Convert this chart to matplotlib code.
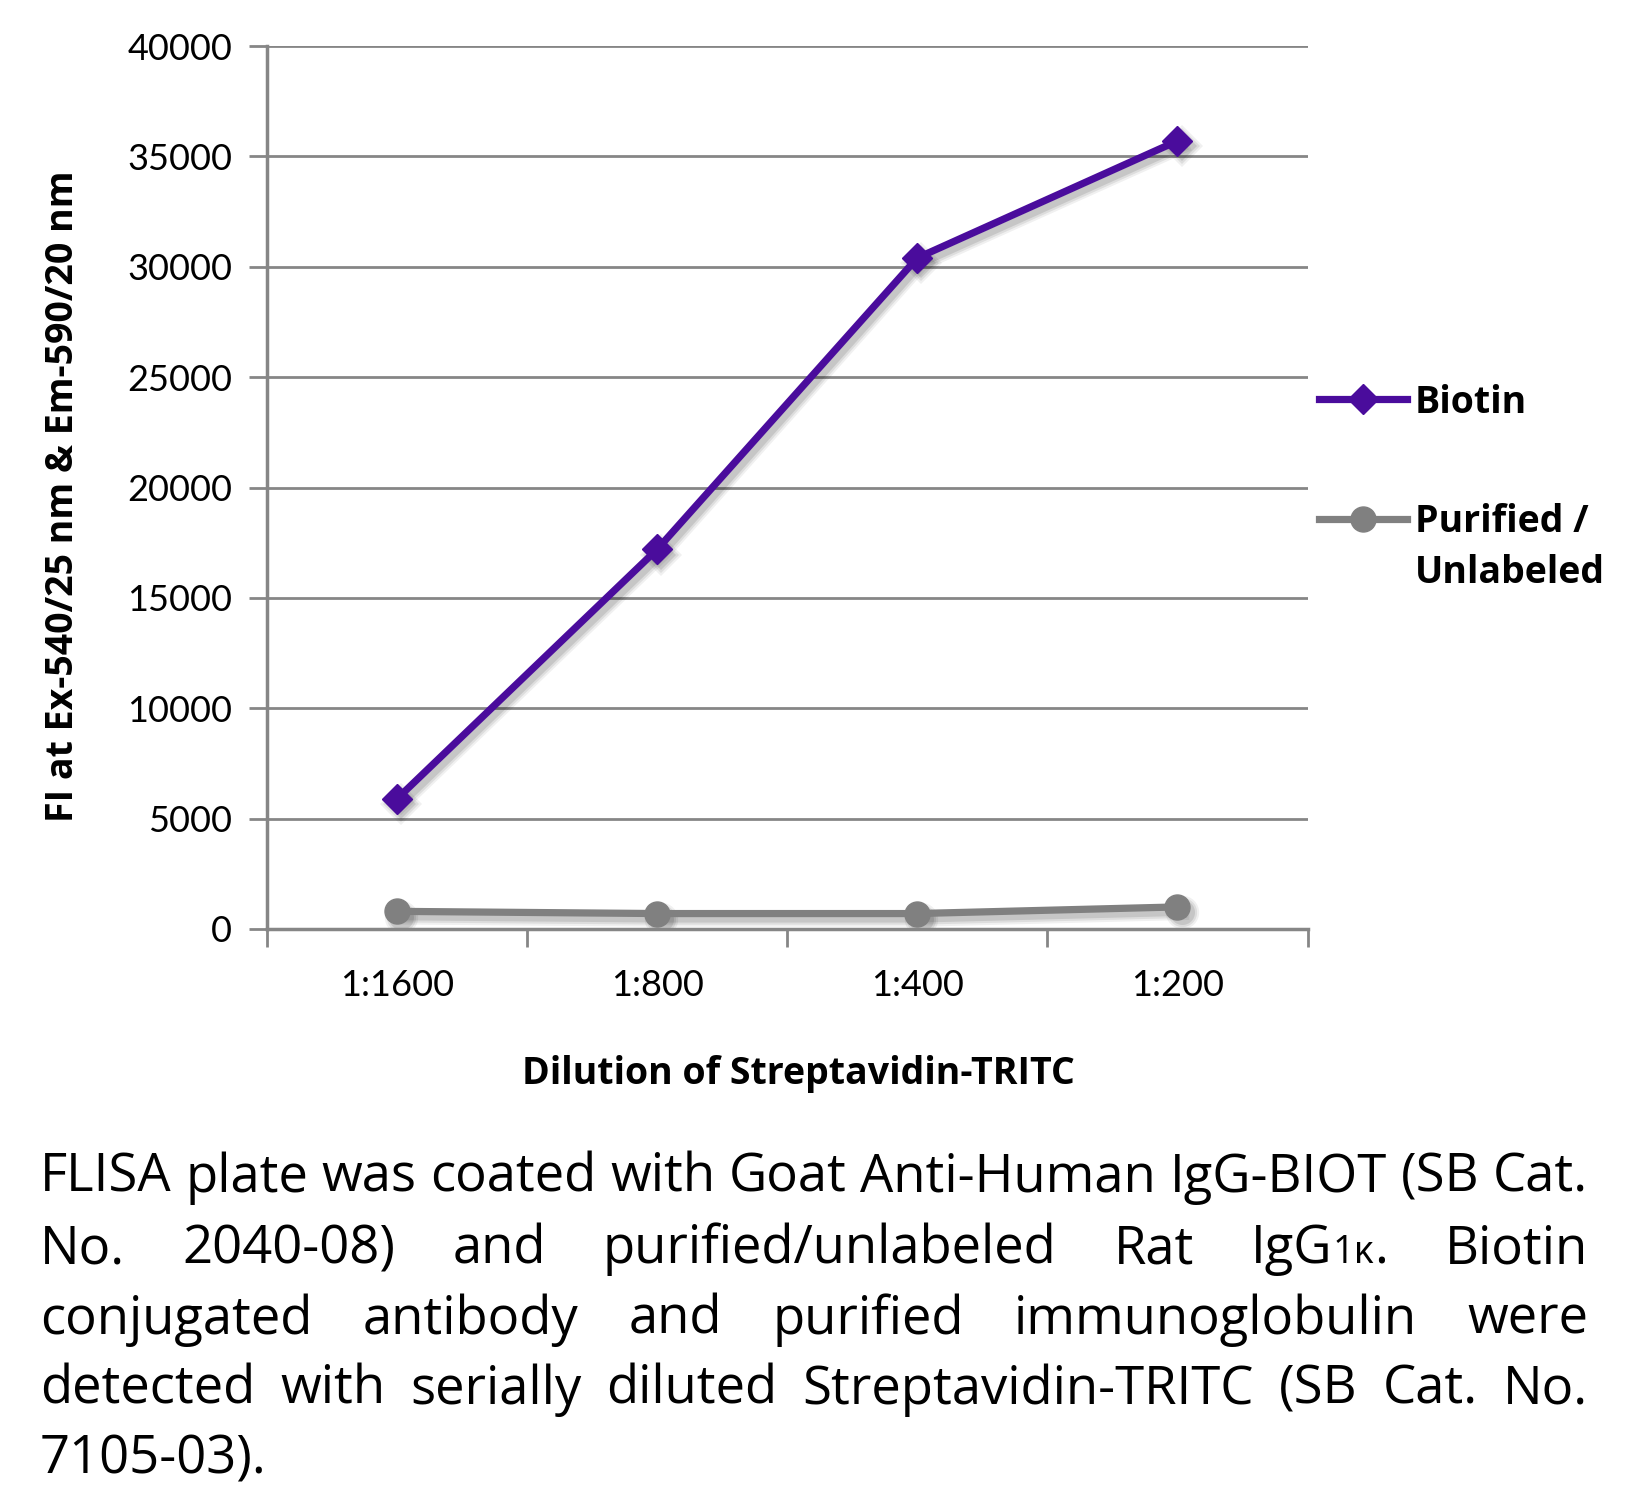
import matplotlib
matplotlib.use("Agg")
import matplotlib.pyplot as plt
from matplotlib.ticker import FixedLocator
from matplotlib.transforms import ScaledTranslation

# data
dilutions = ["1:1600", "1:800", "1:400", "1:200"]
biotin = [5900, 17200, 30400, 35700]
purified = [800, 700, 700, 1000]
y_ticks = [0, 5000, 10000, 15000, 20000, 25000, 30000, 35000, 40000]

# caption: "|" marks the smaller "1κ" piece
caption_lines = [
    "FLISA plate was coated with Goat Anti-Human IgG-BIOT (SB Cat.",
    "No. 2040-08) and purified/unlabeled Rat IgG|1κ|. Biotin",
    "conjugated antibody and purified immunoglobulin were",
    "detected with serially diluted Streptavidin-TRITC (SB Cat. No.",
    "7105-03).",
]

W, H = 1644, 1485
fig = plt.figure(figsize=(W / 100, H / 100), dpi=100)
ax = fig.add_axes([267 / W, 1 - 929 / H, (1307.5 - 267) / W, (929 - 46) / H])

grid_c = "#868686"
purple = "#4a0c9c"
grey = "#808080"

x = list(range(len(dilutions)))
shift = ax.transData + ScaledTranslation(3 / 72, -4 / 72, fig.dpi_scale_trans)
# soft drop shadows
for ys, mk, ms in [(biotin, "D", 15), (purified, "o", 18)]:
    for lw, a in [(11, 0.06), (8, 0.08), (5, 0.10)]:
        ax.plot(x, ys, color="black", alpha=a, lw=lw, marker=mk, markersize=ms + lw - 5,
                markeredgewidth=0, transform=shift, zorder=2)

ax.plot(x, biotin, color=purple, lw=5.2, marker="D", markersize=15,
        label="Biotin", zorder=4)
ax.plot(x, purified, color=grey, lw=5.2, marker="o", markersize=18,
        label="Purified /", zorder=3)

ax.set_xlim(-0.5, 3.5)
ax.set_ylim(0, 40000)
ax.set_yticks(y_ticks)
ax.set_yticklabels([str(v) for v in y_ticks])
ax.set_xticks(x)
ax.set_xticklabels(dilutions)
ax.xaxis.set_minor_locator(FixedLocator([-0.5, 0.5, 1.5, 2.5, 3.5]))
ax.tick_params(axis="x", which="major", length=0, pad=29)
ax.tick_params(axis="x", which="minor", length=13, width=2, color=grid_c, direction="out")
ax.tick_params(axis="y", length=13, width=2, color=grid_c, direction="out", pad=12)
for lab in ax.get_xticklabels() + ax.get_yticklabels():
    lab.set_fontfamily("Lato")
    lab.set_fontsize(26)

ax.grid(axis="y", color=grid_c, lw=2)
ax.set_axisbelow(True)
for s in ["top", "right"]:
    ax.spines[s].set_visible(False)
for s in ["left", "bottom"]:
    ax.spines[s].set_color(grid_c)
    ax.spines[s].set_linewidth(2.5)

ax.set_ylabel("FI at Ex-540/25 nm & Em-590/20 nm", fontsize=27, fontweight="bold",
              family="Open Sans")
ax.yaxis.set_label_coords(-0.178, 0.49)
ax.set_xlabel("Dilution of Streptavidin-TRITC", fontsize=27, fontweight="bold",
              family="Open Sans")
ax.xaxis.set_label_coords(0.511, -0.143)

leg = ax.legend(loc="upper left", bbox_to_anchor=(0.9785, 0.656), frameon=False,
                handlelength=2.35, handletextpad=0.2, labelspacing=2.17,
                prop={"family": "Open Sans", "weight": "bold", "size": 27})
ax.annotate("Unlabeled", xy=(0, 0), xycoords=leg.get_texts()[1],
            xytext=(0, -37), textcoords="offset points", ha="left", va="bottom",
            fontsize=27, fontweight="bold", family="Open Sans")

# justified caption
left, right = 40, 1588
baselines = [1192, 1263, 1334, 1404, 1474]
fig.canvas.draw()
r = fig.canvas.get_renderer()
fs = 40
probe = fig.text(0, 0, caption_lines[0], fontsize=fs, family="Open Sans")
wid = probe.get_window_extent(r).width
probe.remove()
fs = fs * (right - left) / wid
for i, line in enumerate(caption_lines):
    words = line.split()
    groups = []
    for w in words:
        pieces = w.split("|")
        ts = []
        for k, p in enumerate(pieces):
            if not p:
                continue
            size = fs * 0.72 if k == 1 else fs
            ts.append(fig.text(0, 1 - baselines[i] / H, p, fontsize=size,
                               family="Open Sans", va="baseline", ha="left"))
        groups.append(ts)
    widths = [[t.get_window_extent(r).width for t in g] for g in groups]
    total = sum(sum(ws) for ws in widths)
    if i < len(caption_lines) - 1 and len(groups) > 1:
        gap = (right - left - total) / (len(groups) - 1)
    else:
        gap = fs * 0.26
    xp = left
    for g, ws in zip(groups, widths):
        for t, w in zip(g, ws):
            t.set_x(xp / W)
            xp += w
        xp += gap

fig.savefig("out.png", dpi=100)
